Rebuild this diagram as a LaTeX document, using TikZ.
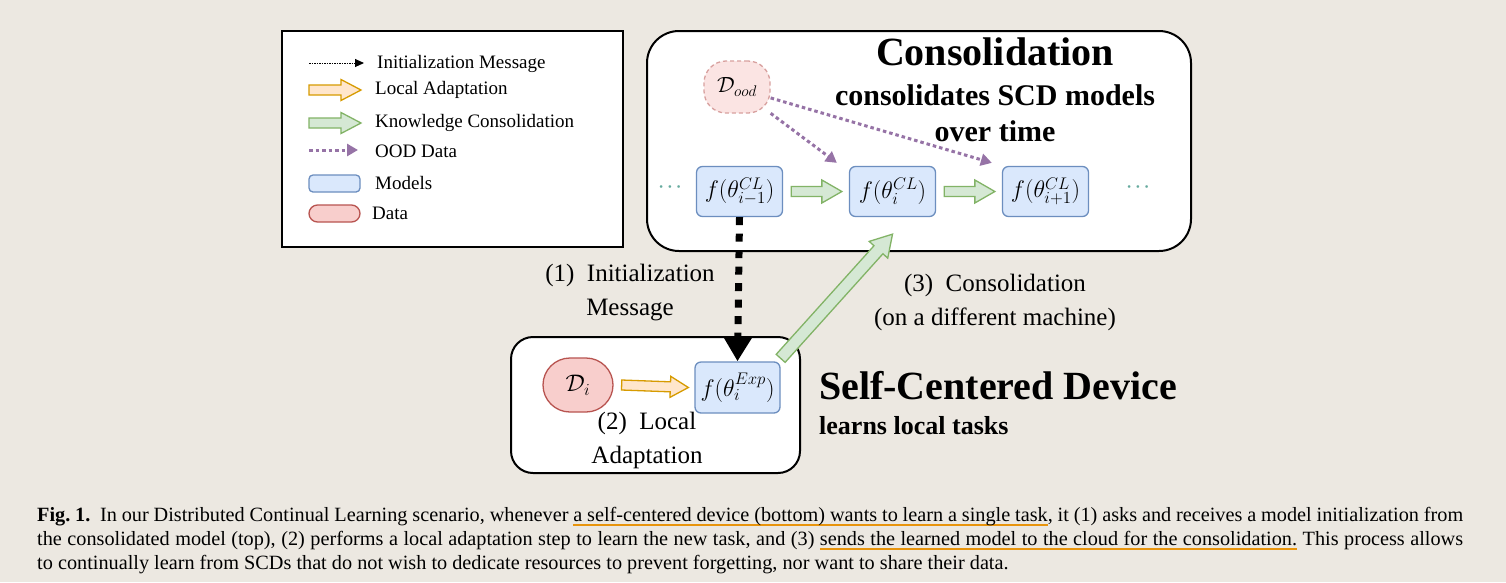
\documentclass[tikz,border=0pt]{standalone}
\usepackage{fix-cm}
\usepackage{fontspec}
\setmainfont{Liberation Serif}
\usetikzlibrary{arrows.meta,calc}
\definecolor{bg}{HTML}{ECE8E1}
\definecolor{bluef}{HTML}{DAE8FC}
\definecolor{bluel}{HTML}{6C8EBF}
\definecolor{redf}{HTML}{F8CECC}
\definecolor{redl}{HTML}{B85450}
\definecolor{greenf}{HTML}{D5E8D4}
\definecolor{greenl}{HTML}{82B366}
\definecolor{orangef}{HTML}{FFE6CC}
\definecolor{orangel}{HTML}{D79B00}
\definecolor{purp}{HTML}{9673A6}
\definecolor{tealdot}{HTML}{67AB9F}
\definecolor{capor}{HTML}{E8940C}
% underlined word and underlined stretchable space
\newcommand\uw[1]{\setbox0\hbox{#1}\rlap{\textcolor{capor}{\rule[-4.5pt]{\wd0}{2pt}}}\box0\relax}
\newcommand\us{{\color{capor}\leaders\hrule height -2.5pt depth 4.5pt\hskip\fontdimen2\font plus\fontdimen3\font minus\fontdimen4\font}}
% flex arrow: style, start, end, shaft half width, head half width, head length
\newcommand\flexarr[6]{%
  \coordinate (faH) at ($(#3)!#6!(#2)$);
  \draw[#1] ($(#2)!#4!90:(#3)$) -- ($(faH)!#4!90:(#3)$) -- ($(faH)!#5!90:(#3)$) -- (#3)
    -- ($(faH)!#5!-90:(#3)$) -- ($(faH)!#4!-90:(#3)$) -- ($(#2)!#4!-90:(#3)$) -- cycle;}
\tikzset{
  legtext/.style={anchor=west, inner sep=0pt, font=\fontsize{19}{22}\selectfont},
  model/.style={draw=bluel, fill=bluef, line width=1.3pt, rounded corners=6pt,
    minimum width=86pt, minimum height=50pt, inner sep=0pt, font=\fontsize{24}{28}\selectfont},
  datapill/.style={draw=redl, fill=redf, line width=1.3pt, inner sep=0pt},
  greenarr/.style={draw=greenl, fill=greenf, line width=1.3pt, line join=miter},
  orangearr/.style={draw=orangel, fill=orangef, line width=1.3pt, line join=miter},
  oodarr/.style={draw=purp, line width=3pt, dash pattern=on 3.5pt off 3pt,
    -{Triangle[width=12pt,length=11pt]}},
  initarr/.style={draw=black, line width=7pt, dash pattern=on 8pt off 8.5pt,
    -{Triangle[width=28pt,length=25pt]}},
  frame/.style={draw=black, line width=2pt, fill=white},
  midlabel/.style={align=center, inner sep=0pt, font=\fontsize{25}{34}\selectfont},
  tdots/.style={text=tealdot, inner sep=0pt, font=\fontsize{26}{30}\bfseries\selectfont},
}
\begin{document}
\begin{tikzpicture}[x=1pt,y=-1pt]
\fill[bg] (0,0) rectangle (1506,582);
\useasboundingbox (0,0) rectangle (1506,582);

% ---------------- legend ----------------
\node[draw=black, line width=1.5pt, fill=white, minimum width=341pt, minimum height=216pt,
  anchor=north west, inner sep=0pt] (legend) at (281,30) {};
\coordinate (l1a) at (309,63); \coordinate (l1b) at (364,63);
\draw[black, line width=1pt, dash pattern=on 1.5pt off 1pt, -{Triangle[width=8pt,length=9pt]}] (l1a) -- (l1b);
\node[legtext] (t1) at (377,64) {Initialization Message};
\coordinate (l2a) at (309,90); \coordinate (l2b) at (361,90);
\flexarr{orangearr}{l2a}{l2b}{5pt}{10.5pt}{20pt}
\node[legtext] (t2) at (375,90) {Local Adaptation};
\coordinate (l3a) at (309,123); \coordinate (l3b) at (361,123);
\flexarr{greenarr}{l3a}{l3b}{5pt}{10.5pt}{20pt}
\node[legtext] (t3) at (375,123) {Knowledge Consolidation};
\coordinate (l4a) at (309,150); \coordinate (l4b) at (358,150);
\draw[oodarr] (l4a) -- (l4b);
\node[legtext] (t4) at (375,151) {OOD Data};
\node[draw=bluel, fill=bluef, line width=1.3pt, rounded corners=4pt, minimum width=51pt,
  minimum height=17pt, inner sep=0pt] (lm) at (334.5,183.5) {};
\node[legtext] (t5) at (375,183) {Models};
\node[datapill, rounded corners=8.5pt, minimum width=51pt, minimum height=17pt] (ld) at (334.5,213.5) {};
\node[legtext] (t6) at (372,213) {Data};

% ---------------- consolidation box ----------------
\node[frame, rounded corners=32pt, minimum width=544pt, minimum height=220pt,
  anchor=north west, inner sep=0pt] (cons) at (646,30) {};
\node[inner sep=0pt, font=\fontsize{40}{44}\bfseries\selectfont] (ctitle) at (995,52) {Consolidation};
\node[inner sep=0pt, align=center, font=\fontsize{30}{36}\bfseries\selectfont] (csub) at (995,113)
  {consolidates SCD models\\over time};
\node[draw=redl!55, fill=redf!55!white, dash pattern=on 4pt off 3pt, line width=1.3pt,
  rounded corners=22pt, minimum width=66pt, minimum height=52pt, inner sep=0pt,
  font=\fontsize{22}{26}\selectfont] (dood) at (737,87) {$\mathcal{D}_{ood}$};
\node[model] (m1) at (739.5,191.5) {$f(\theta^{CL}_{i-1})$};
\node[model] (m2) at (892.5,191.5) {$f(\theta^{CL}_{i})$};
\node[model] (m3) at (1045.5,191.5) {$f(\theta^{CL}_{i+1})$};
\node[tdots] (dl) at (670,188) {$\cdot\mkern-3mu\cdot\mkern-3mu\cdot$};
\node[tdots] (dr) at (1138,188) {$\cdot\mkern-3mu\cdot\mkern-3mu\cdot$};
\coordinate (g1s) at ($(m1.east)+(8,0)$); \coordinate (g1e) at ($(m2.west)+(-7,0)$);
\flexarr{greenarr}{g1s}{g1e}{5pt}{11.5pt}{20pt}
\coordinate (g2s) at ($(m2.east)+(8,0)$); \coordinate (g2e) at ($(m3.west)+(-7,0)$);
\flexarr{greenarr}{g2s}{g2e}{5pt}{11.5pt}{20pt}
\coordinate (o1e) at ($(m2.north west)+(-12,-3)$);
\coordinate (o2e) at ($(m3.north west)+(-10,-3)$);
\draw[oodarr] (dood.-38) -- (o1e);
\draw[oodarr] (dood.-18) -- (o2e);

% ---------------- self-centered device box ----------------
\node[frame, rounded corners=22pt, minimum width=289pt, minimum height=136pt,
  anchor=north west, inner sep=0pt] (scd) at (510,336) {};
\node[datapill, rounded corners=27pt, minimum width=70pt, minimum height=54pt,
  font=\fontsize{24}{28}\selectfont] (di) at (578,385) {$\mathcal{D}_i$};
\node[model, minimum width=85pt, minimum height=51pt] (exp) at (737.5,387.5) {$f(\theta^{Exp}_{i})$};
\coordinate (os) at ($(di.east)+(8,0)$); \coordinate (oe) at ($(exp.west)+(-6,0)$);
\flexarr{orangearr}{os}{oe}{5pt}{10.5pt}{18pt}
\node[midlabel] (l2) at (647,440) {(2)\ \ Local\\Adaptation};

% ---------------- connectors between boxes ----------------
\draw[initarr] (m1.south) -- (exp.north);
\coordinate (cs) at ($(exp.north east)+(0,-3)$);
\coordinate (ce) at ($(m2.south)+(0,17)$);
\flexarr{greenarr}{cs}{ce}{6pt}{12.5pt}{21pt}
\node[midlabel] (l1) at (630,293) {(1)\ \ Initialization\\Message};
\node[midlabel] (l3) at (995,302) {(3)\ \ Consolidation\\(on a different machine)};

\node[anchor=west, inner sep=0pt, font=\fontsize{40}{44}\bfseries\selectfont] (scdt) at (819,386) {Self-Centered Device};
\node[anchor=west, inner sep=0pt, font=\fontsize{26}{30}\bfseries\selectfont] (scds) at (819,426) {learns local tasks};

% ---------------- caption ----------------
\node[anchor=north west, inner sep=0pt, text width=1426pt, align=justify,
  font=\fontsize{20.25}{24}\selectfont] (cap) at (37,507) {\tolerance=9999\hyphenpenalty=10000
\textbf{Fig.~1.}\ \ In our Distributed Continual Learning scenario, whenever
\uw{a}\us\uw{self-centered}\us\uw{device}\us\uw{(bottom)}\us\uw{wants}\us\uw{to}\us\uw{learn}\us\uw{a}\us\uw{single}\us\uw{task}, it (1) asks and receives a model initialization from\linebreak
the consolidated model (top), (2) performs a local adaptation step to learn the new task, and (3)
\uw{sends}\us\uw{the}\us\uw{learned}\us\uw{model}\us\uw{to}\us\uw{the}\us\uw{cloud}\us\uw{for}\us\uw{the}\us\uw{consolidation.} This process allows\linebreak
to continually learn from SCDs that do not wish to dedicate resources to prevent forgetting, nor want to share their data.};
\end{tikzpicture}
\end{document}
